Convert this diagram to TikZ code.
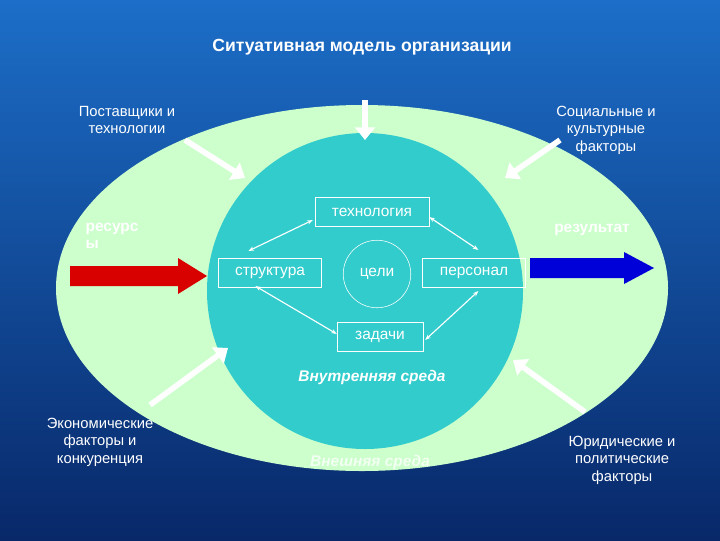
\documentclass[tikz,border=0pt]{standalone}
\usepackage{fontspec}
\setmainfont{Liberation Sans}
\usetikzlibrary{arrows.meta,calc}
\definecolor{bgtop}{RGB}{28,110,200}
\definecolor{bgbot}{RGB}{8,40,105}
\definecolor{outerg}{RGB}{204,255,204}
\definecolor{innert}{RGB}{51,204,204}
\tikzset{
    lbl/.style={text=white, align=center, font=\fontsize{10.5}{12.5}\selectfont},
    boxx/.style={draw=white, thin, text=white, inner sep=2pt, minimum height=21pt,
        font=\fontsize{11}{12}\selectfont},
    link/.style={white, thick, {Stealth[length=4pt]}-{Stealth[length=4pt]}},
    bigarrow/.style={white, line width=4pt, -{Triangle[length=9pt,width=14pt]}},
}
\begin{document}
\begin{tikzpicture}[x=0.025cm, y=-0.025cm]
    \useasboundingbox (0,0) rectangle (720,540);
    %Hintergrund
    \shade[top color=bgtop, bottom color=bgbot] (0,0) rectangle (720,540);
    \node[text=white, font=\bfseries\fontsize{12.5}{14}\selectfont] (title) at (362,47)
        {Ситуативная модель организации};

    %Ellipsen
    \fill[outerg] (362,288) ellipse [x radius=306, y radius=183];
    \fill[innert] (365,291) circle [radius=158];
    \node[draw=white, thin, circle, minimum size=48pt, inner sep=0pt, text=white,
        font=\fontsize{11}{12}\selectfont] (goals) at (377,274) {цели};

    %Kasten
    \node[boxx, minimum width=81pt] (tech) at (372,212) {технология};
    \node[boxx, minimum width=73pt] (struct) at (270,273) {структура};
    \node[boxx, minimum width=73pt] (staff) at (474,273) {персонал};
    \node[boxx, minimum width=61pt] (tasks) at (380,337) {задачи};
    \draw[link] ($(struct.north west)+(30,-7)$) -- ($(tech.south west)+(-2,-7)$);
    \draw[link] ($(tech.south east)+(0,-10)$) -- ($(staff.north west)+(56,-8)$);
    \draw[link] ($(struct.south west)+(37,-2)$) -- ($(tasks.north west)+(0,12)$);
    \draw[link] ($(tasks.north east)+(2,18)$) -- ($(staff.south west)+(56,3)$);

    \node[text=white, font=\bfseries\itshape\fontsize{11}{13}\selectfont] (inner) at (372,377)
        {Внутренняя среда};
    \node[text=white!75!outerg, font=\bfseries\itshape\fontsize{11}{13}\selectfont] (outer) at (370,462)
        {Внешняя среда};

    %Eingang und Ausgang
    \node[text=white, font=\bfseries\fontsize{11}{12}\selectfont, align=left] (res) at (112,236)
        {ресурс\\ы};
    \node[text=white, font=\bfseries\fontsize{11}{12}\selectfont] (out) at (592,230) {результат};
    \fill[red!85!black] (70,266) -- (178,266) -- (178,258) -- (207,276) -- (178,294) -- (178,286) -- (70,286) -- cycle;
    \fill[blue!85!black] (530,258) -- (624,258) -- (624,252) -- (654,268) -- (624,284) -- (624,278) -- (530,278) -- cycle;

    %Faktoren
    \node[lbl] (supp) at (127,120) {Поставщики и\\технологии};
    \node[lbl] (soc) at (606,130) {Социальные и\\культурные\\факторы};
    \node[lbl] (econ) at (100,442) {Экономические\\факторы и\\конкуренция};
    \node[lbl] (law) at (622,460) {Юридические и\\политические\\факторы};

    \coordinate (a1) at (185,140);
    \coordinate (a2) at (245,178);
    \coordinate (b1) at (365,100);
    \coordinate (b2) at (365,140);
    \coordinate (c1) at (560,140);
    \coordinate (c2) at (505,178);
    \coordinate (d1) at (150,405);
    \coordinate (d2) at (228,348);
    \coordinate (e1) at (585,412);
    \coordinate (e2) at (513,360);
    \foreach \s/\t in {a1/a2, b1/b2, c1/c2, d1/d2, e1/e2}{
        \draw[bigarrow] (\s) -- (\t);}
\end{tikzpicture}
\end{document}
